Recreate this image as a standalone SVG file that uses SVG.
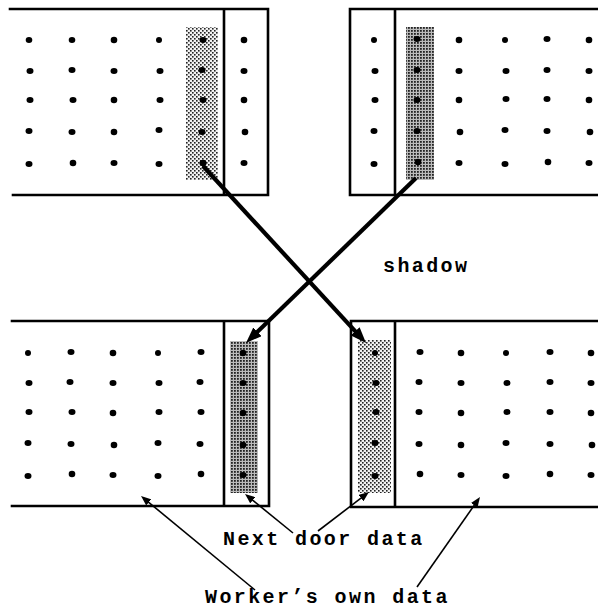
<svg xmlns="http://www.w3.org/2000/svg" width="598" height="609" viewBox="0 0 598 609">
<style>
.box{fill:none;stroke:#000;stroke-width:2.6;stroke-linecap:square}
.dot{fill:#000}
.light{fill:url(#lightDots)}
.dark{fill:url(#darkDots)}
.thick{stroke:#000;stroke-width:4.2;fill:none}
.thin{stroke:#000;stroke-width:1.6;fill:none}
.lbl{font-family:"Liberation Mono","Courier New",monospace;font-size:20px;font-weight:bold;letter-spacing:2.4px;fill:#000}
</style>
<defs>
<pattern id="lightDots" width="4" height="4" patternUnits="userSpaceOnUse">
<rect width="4" height="4" fill="#f2f2f2"/>
<rect x="0" y="0" width="1.6" height="1.6" fill="#222"/>
<rect x="2" y="2" width="1.6" height="1.6" fill="#222"/>
</pattern>
<pattern id="darkDots" width="3" height="3" patternUnits="userSpaceOnUse">
<rect width="3" height="3" fill="#bbb"/>
<rect x="0" y="0" width="1.8" height="1.8" fill="#222"/>
</pattern>
<marker id="bigHead" markerUnits="userSpaceOnUse" markerWidth="16" markerHeight="12" refX="4" refY="6" orient="auto">
<path d="M0,0 L16,6 L0,12 z" fill="#000"/>
</marker>
<marker id="smallHead" markerUnits="userSpaceOnUse" markerWidth="10" markerHeight="8" refX="2" refY="4" orient="auto">
<path d="M0,0 L10,4 L0,8 z" fill="#000"/>
</marker>
</defs>
<rect width="598" height="609" fill="#fff"/>

<g id="worker-top-left">
<rect class="light" x="186" y="27" width="32" height="153"/>
<path class="box" d="M10,9 H268 V195 H13 M224,9 V195"/>
<g class="dot">
<ellipse cx="29" cy="40" rx="3.3" ry="3"/><ellipse cx="72" cy="40" rx="3.3" ry="3"/><ellipse cx="114" cy="40" rx="3.3" ry="3.3"/><ellipse cx="159" cy="40" rx="3" ry="3"/><ellipse cx="203" cy="40" rx="3.5" ry="3"/><ellipse cx="244" cy="40" rx="3.3" ry="3.3"/>
<ellipse cx="30" cy="71" rx="3.5" ry="3"/><ellipse cx="72" cy="70" rx="3.5" ry="3"/><ellipse cx="114" cy="71" rx="3.5" ry="3"/><ellipse cx="160" cy="71" rx="3.5" ry="3"/><ellipse cx="202" cy="70" rx="3.5" ry="3"/><ellipse cx="244" cy="71" rx="3.5" ry="3"/>
<ellipse cx="30" cy="100" rx="3.5" ry="3"/><ellipse cx="73" cy="100" rx="3.5" ry="3"/><ellipse cx="114" cy="100" rx="3.3" ry="3.3"/><ellipse cx="160" cy="100" rx="3.5" ry="3"/><ellipse cx="203" cy="100" rx="3.5" ry="3"/><ellipse cx="244" cy="100" rx="3.3" ry="3.3"/>
<ellipse cx="29" cy="131" rx="3.5" ry="3"/><ellipse cx="72" cy="132" rx="3.5" ry="3"/><ellipse cx="114" cy="132" rx="3.3" ry="3.3"/><ellipse cx="159" cy="130" rx="3.5" ry="3"/><ellipse cx="202" cy="132" rx="3.5" ry="3"/><ellipse cx="245" cy="132" rx="3.3" ry="3.3"/>
<ellipse cx="29" cy="164" rx="3.5" ry="3"/><ellipse cx="73" cy="163" rx="3.3" ry="3.3"/><ellipse cx="114" cy="163" rx="3.5" ry="3"/><ellipse cx="159" cy="164" rx="3.5" ry="3"/><ellipse cx="203" cy="163" rx="3.5" ry="3.3"/><ellipse cx="244" cy="163" rx="3.5" ry="3"/>
</g>
</g>

<g id="worker-top-right">
<rect class="dark" x="406" y="27" width="28" height="153"/>
<path class="box" d="M598,9 H350 V195 H598 M395,9 V195"/>
<g class="dot">
<ellipse cx="374" cy="40" rx="3" ry="3"/><ellipse cx="417" cy="39" rx="3.5" ry="3"/><ellipse cx="459" cy="40" rx="3.3" ry="3.3"/><ellipse cx="505" cy="40" rx="3" ry="3"/><ellipse cx="547" cy="39" rx="3.5" ry="3"/><ellipse cx="589" cy="40" rx="3.3" ry="3.3"/>
<ellipse cx="375" cy="71" rx="3.5" ry="3"/><ellipse cx="417" cy="70" rx="3.5" ry="3"/><ellipse cx="459" cy="71" rx="3.5" ry="3"/><ellipse cx="506" cy="71" rx="3.5" ry="3"/><ellipse cx="547" cy="70" rx="3.5" ry="3"/><ellipse cx="589" cy="71" rx="3.5" ry="3"/>
<ellipse cx="375" cy="100" rx="3.5" ry="3"/><ellipse cx="417" cy="100" rx="3.5" ry="3"/><ellipse cx="459" cy="100" rx="3.3" ry="3.3"/><ellipse cx="506" cy="99" rx="3.5" ry="3"/><ellipse cx="547" cy="99" rx="3.5" ry="3"/><ellipse cx="589" cy="100" rx="3.3" ry="3.3"/>
<ellipse cx="374" cy="131" rx="3.5" ry="3"/><ellipse cx="417" cy="131" rx="3.5" ry="3"/><ellipse cx="460" cy="132" rx="3.3" ry="3.3"/><ellipse cx="505" cy="130" rx="3.5" ry="3"/><ellipse cx="547" cy="131" rx="3.5" ry="3"/><ellipse cx="590" cy="132" rx="3.3" ry="3.3"/>
<ellipse cx="374" cy="164" rx="3.5" ry="3"/><ellipse cx="418" cy="162" rx="3.3" ry="3.3"/><ellipse cx="459" cy="163" rx="3.5" ry="3"/><ellipse cx="505" cy="164" rx="3.5" ry="3"/><ellipse cx="548" cy="162" rx="3.3" ry="3.3"/><ellipse cx="589" cy="163" rx="3.5" ry="3"/>
</g>
</g>

<g id="worker-bottom-left">
<rect class="dark" x="230" y="341" width="28" height="152"/>
<path class="box" d="M12,321 H269 V506 H12 M224,321 V506"/>
<g class="dot">
<ellipse cx="28" cy="353" rx="3" ry="3"/><ellipse cx="71" cy="352" rx="3.5" ry="3"/><ellipse cx="113" cy="353" rx="3.3" ry="3.3"/><ellipse cx="158" cy="353" rx="3" ry="3"/><ellipse cx="201" cy="352" rx="3.5" ry="3"/><ellipse cx="243" cy="353" rx="3.3" ry="3.3"/>
<ellipse cx="29" cy="383" rx="3.5" ry="3"/><ellipse cx="70" cy="382" rx="3.5" ry="3"/><ellipse cx="113" cy="383" rx="3.5" ry="3"/><ellipse cx="159" cy="383" rx="3.5" ry="3"/><ellipse cx="200" cy="382" rx="3.5" ry="3"/><ellipse cx="243" cy="383" rx="3.5" ry="3"/>
<ellipse cx="29" cy="412" rx="3.5" ry="3"/><ellipse cx="72" cy="412" rx="3.5" ry="3"/><ellipse cx="113" cy="413" rx="3.3" ry="3.3"/><ellipse cx="159" cy="412" rx="3.5" ry="3"/><ellipse cx="201" cy="412" rx="3.5" ry="3"/><ellipse cx="243" cy="413" rx="3.3" ry="3.3"/>
<ellipse cx="28" cy="443" rx="3.5" ry="3"/><ellipse cx="71" cy="444" rx="3.5" ry="3"/><ellipse cx="114" cy="445" rx="3.3" ry="3.3"/><ellipse cx="158" cy="443" rx="3.5" ry="3"/><ellipse cx="200" cy="444" rx="3.5" ry="3"/><ellipse cx="243" cy="445" rx="3.3" ry="3.3"/>
<ellipse cx="28" cy="476" rx="3.5" ry="3"/><ellipse cx="72" cy="474" rx="3.3" ry="3.3"/><ellipse cx="113" cy="475" rx="3.5" ry="3"/><ellipse cx="158" cy="476" rx="3.5" ry="3"/><ellipse cx="201" cy="474" rx="3.3" ry="3.3"/><ellipse cx="243" cy="475" rx="3.5" ry="3"/>
</g>
</g>

<g id="worker-bottom-right">
<rect class="light" x="358" y="340" width="33" height="153"/>
<path class="box" d="M598,321 H351 V507 H598 M395,321 V507"/>
<g class="dot">
<ellipse cx="375" cy="353" rx="3" ry="3"/><ellipse cx="420" cy="352" rx="3.5" ry="3"/><ellipse cx="461" cy="353" rx="3.3" ry="3.3"/><ellipse cx="506" cy="353" rx="3" ry="3"/><ellipse cx="550" cy="352" rx="3.5" ry="3"/><ellipse cx="591" cy="353" rx="3.3" ry="3.3"/>
<ellipse cx="376" cy="383" rx="3.5" ry="3"/><ellipse cx="419" cy="382" rx="3.5" ry="3"/><ellipse cx="461" cy="383" rx="3.5" ry="3"/><ellipse cx="507" cy="383" rx="3.5" ry="3"/><ellipse cx="550" cy="382" rx="3.5" ry="3"/><ellipse cx="591" cy="383" rx="3.5" ry="3"/>
<ellipse cx="376" cy="412" rx="3.5" ry="3"/><ellipse cx="419" cy="412" rx="3.5" ry="3"/><ellipse cx="461" cy="413" rx="3.3" ry="3.3"/><ellipse cx="507" cy="412" rx="3.5" ry="3"/><ellipse cx="550" cy="412" rx="3.5" ry="3"/><ellipse cx="591" cy="413" rx="3.3" ry="3.3"/>
<ellipse cx="375" cy="443" rx="3.5" ry="3"/><ellipse cx="419" cy="444" rx="3.5" ry="3"/><ellipse cx="461" cy="445" rx="3.3" ry="3.3"/><ellipse cx="506" cy="443" rx="3.5" ry="3"/><ellipse cx="550" cy="444" rx="3.5" ry="3"/><ellipse cx="592" cy="445" rx="3.3" ry="3.3"/>
<ellipse cx="375" cy="476" rx="3.5" ry="3"/><ellipse cx="420" cy="474" rx="3.3" ry="3.3"/><ellipse cx="461" cy="475" rx="3.5" ry="3"/><ellipse cx="506" cy="476" rx="3.5" ry="3"/><ellipse cx="550" cy="474" rx="3.3" ry="3.3"/><ellipse cx="591" cy="475" rx="3.5" ry="3"/>
</g>
</g>

<g id="connectors">
<line class="thick" x1="203" y1="166" x2="357.9" y2="334.2" marker-end="url(#bigHead)"/>
<line class="thick" x1="416" y1="178" x2="254.6" y2="334.6" marker-end="url(#bigHead)"/>
<line class="thin" x1="293" y1="533" x2="251.2" y2="499" marker-end="url(#smallHead)"/>
<line class="thin" x1="318" y1="531" x2="362.6" y2="496.9" marker-end="url(#smallHead)"/>
<line class="thin" x1="255" y1="590" x2="147.2" y2="501.1" marker-end="url(#smallHead)"/>
<line class="thin" x1="417" y1="587" x2="475.4" y2="503.6" marker-end="url(#smallHead)"/>
</g>

<g id="labels">
<text class="lbl" x="383" y="272">shadow</text>
<text class="lbl" x="223" y="545">Next door data</text>
<text class="lbl" x="205" y="603">Worker’s own data</text>
</g>
</svg>
